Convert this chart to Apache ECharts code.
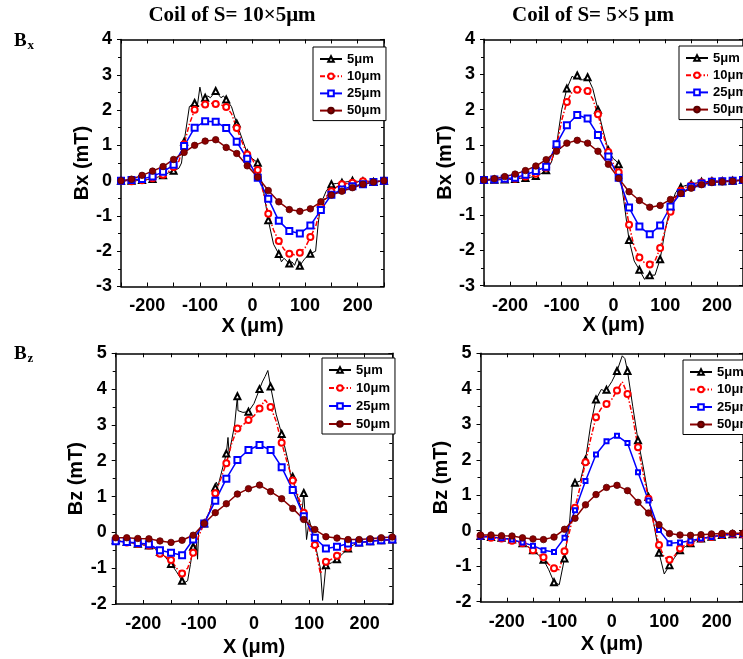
<!DOCTYPE html>
<html><head><meta charset="utf-8">
<script src="https://cdn.jsdelivr.net/npm/echarts@6/dist/echarts.min.js"></script>
<style>html,body{margin:0;padding:0;background:#fff}#c{width:743px;height:659px}</style>
</head><body><div id="c"></div>
<script>
// ---------- data ----------
const seriesNames = ['5μm', '10μm', '25μm', '50μm'];
const xTickLabels = [-200, -100, 0, 100, 200];
const xTicks = [-250, -200, -150, -100, -50, 0, 50, 100, 150, 200, 250];
const X20 = [-250,-230,-210,-190,-170,-150,-130,-110,-90,-70,-50,-30,-10,10,30,50,70,90,110,130,150,170,190,210,230,250];
const X10 = [-250,-240,-230,-220,-210,-200,-190,-180,-170,-160,-150,-140,-130,-120,-110,-100,-90,-80,-70,-60,-50,-40,-30,-20,-10,0,10,20,30,40,50,60,70,80,90,100,110,120,130,140,150,160,170,180,190,200,210,220,230,240,250];

// Top-left: Bx, coil 10x5
const tl5x = [-250,-240,-230,-220,-210,-200,-190,-180,-170,-160,-150,-140,-135,-130,-120,-110,-105,-100,-95,-90,-85,-80,-70,-60,-55,-50,-40,-30,-20,-10,0,10,20,30,40,50,55,60,70,75,80,85,90,95,100,110,120,125,130,140,150,160,170,180,190,200,210,220,230,240,250];
const tl5y = [0,0,0,0.01,0.02,0.03,0.05,0.1,0.15,0.22,0.28,0.35,0.5,1.1,2.1,2.2,2.1,2.65,2.3,2.35,2.4,2.35,2.54,2.35,2.4,2.3,2.1,1.62,1.2,0.77,0.62,0.51,-0.2,-1.12,-1.8,-2.08,-2.3,-2.2,-2.35,-2.3,-2.4,-2.2,-2.41,-2.3,-2.2,-2.07,-2.0,-1.2,-0.65,-0.3,-0.1,-0.08,-0.06,-0.03,0,-0.02,-0.02,-0.02,-0.04,-0.02,0];
const tl10 = [0,0,-0.02,0,0.01,0.03,0.07,0.1,0.17,0.25,0.39,0.55,1.03,1.6,2.01,2.15,2.16,2.2,2.17,2.15,2.09,1.9,1.49,1.1,0.74,0.6,0.3,-0.3,-0.94,-1.4,-1.71,-1.95,-2.07,-2.1,-2.04,-1.9,-1.6,-1.3,-0.75,-0.45,-0.3,-0.18,-0.1,-0.08,-0.06,-0.04,-0.02,-0.02,-0.04,-0.02,0];
const tl25 = [0,0.02,0.05,0.12,0.25,0.45,0.98,1.5,1.68,1.67,1.49,1.1,0.62,0.08,-0.51,-1.14,-1.43,-1.5,-1.27,-0.83,-0.4,-0.25,-0.16,-0.1,-0.04,0];
const tl50 = [0,0.04,0.15,0.27,0.4,0.6,0.8,1.0,1.12,1.16,0.94,0.77,0.42,0.1,-0.28,-0.6,-0.82,-0.87,-0.8,-0.6,-0.41,-0.3,-0.2,-0.1,-0.04,0];

// Top-right: Bx, coil 5x5
const tr5x = [-250,-240,-230,-220,-210,-200,-190,-180,-170,-160,-150,-140,-130,-120,-110,-100,-90,-80,-75,-70,-65,-60,-50,-40,-30,-20,-10,0,5,10,20,30,40,50,60,65,70,80,90,100,110,120,130,140,150,160,170,180,190,200,210,220,230,240,250];
const tr5y = [0,0,0.01,0.01,0.02,0.02,0.03,0.05,0.06,0.08,0.12,0.18,0.28,0.5,1.0,2.0,2.6,2.95,2.9,2.97,2.85,2.85,2.92,2.6,2.0,1.4,0.85,0.6,0.55,0.45,-0.6,-1.7,-2.3,-2.55,-2.82,-2.7,-2.7,-2.7,-2.25,-1.4,-0.75,-0.35,-0.2,-0.15,-0.12,-0.08,-0.05,-0.04,-0.03,-0.03,-0.03,-0.02,-0.02,-0.01,0];
const tr10 = [0,0,0.02,0.02,0.03,0.03,0.04,0.07,0.1,0.14,0.18,0.25,0.35,0.55,0.95,1.7,2.22,2.5,2.57,2.58,2.53,2.3,1.87,1.3,0.8,0.45,0.22,-0.4,-1.27,-1.9,-2.2,-2.35,-2.4,-2.3,-1.93,-1.4,-0.9,-0.5,-0.3,-0.2,-0.15,-0.1,-0.07,-0.05,-0.04,-0.03,-0.03,-0.02,-0.02,-0.01,0];
const tr25 = [0,0.02,0.04,0.07,0.15,0.26,0.38,1.02,1.56,1.85,1.75,1.28,0.67,0.07,-0.78,-1.32,-1.54,-1.29,-0.75,-0.37,-0.19,-0.1,-0.05,-0.03,-0.02,0];
const tr50 = [0,0.04,0.1,0.17,0.27,0.4,0.58,0.82,1.05,1.13,1.05,0.82,0.45,0.05,-0.33,-0.58,-0.77,-0.72,-0.55,-0.38,-0.23,-0.13,-0.07,-0.05,-0.03,0];

// Bottom-left: Bz, coil 10x5
const bl5x = [-250,-240,-230,-220,-210,-200,-190,-180,-170,-160,-150,-140,-130,-125,-120,-115,-110,-105,-102,-100,-95,-90,-80,-70,-68,-65,-60,-50,-47,-45,-40,-35,-30,-29,-20,-10,0,10,15,20,25,30,40,50,60,63,66,70,80,87,90,95,100,110,120,124,130,140,150,160,170,180,190,200,210,220,230,240,250];
const bl5y = [-0.22,-0.25,-0.27,-0.3,-0.32,-0.35,-0.37,-0.45,-0.55,-0.7,-0.88,-1.1,-1.35,-1.4,-1.35,-0.9,-0.4,-0.1,-0.75,0.05,0.15,0.25,0.6,1.25,1.4,1.3,1.6,2.2,2.65,2.2,2.6,3.0,3.8,3.4,3.35,3.37,3.6,4.0,4.2,4.35,4.52,4.07,3.3,2.75,2.1,1.9,1.6,1.55,0.9,0.6,1.1,-0.2,0.35,-0.3,-1.0,-1.9,-0.92,-0.85,-0.75,-0.6,-0.45,-0.35,-0.28,-0.27,-0.25,-0.23,-0.22,-0.21,-0.2];
const bl10 = [-0.22,-0.25,-0.28,-0.3,-0.32,-0.35,-0.37,-0.45,-0.6,-0.68,-0.77,-1.0,-1.15,-1.0,-0.57,-0.1,0.25,0.6,1.09,1.5,1.93,2.5,2.9,3.0,3.14,3.25,3.46,3.7,3.5,3.1,2.5,1.95,1.45,1.0,0.55,0.1,-0.35,-1.15,-0.82,-0.75,-0.65,-0.55,-0.42,-0.33,-0.28,-0.27,-0.25,-0.23,-0.22,-0.21,-0.2];
const bl25 = [-0.25,-0.27,-0.3,-0.33,-0.5,-0.57,-0.64,-0.2,0.25,0.88,1.5,2.02,2.3,2.44,2.3,1.82,1.18,0.45,-0.15,-0.45,-0.4,-0.31,-0.28,-0.25,-0.22,-0.2];
const bl50 = [-0.15,-0.15,-0.17,-0.18,-0.24,-0.28,-0.22,-0.08,0.25,0.55,0.8,1.07,1.22,1.32,1.14,0.94,0.67,0.36,0.08,-0.12,-0.16,-0.2,-0.2,-0.18,-0.15,-0.13];

// Bottom-right: Bz, coil 5x5
const br5x = [-250,-240,-230,-220,-210,-200,-190,-180,-170,-160,-150,-140,-130,-120,-110,-100,-90,-80,-75,-70,-60,-50,-40,-30,-20,-15,-10,0,10,20,25,30,40,50,60,70,80,90,100,110,120,130,140,150,160,170,180,190,200,210,220,230,240,250];
const br5y = [-0.15,-0.16,-0.18,-0.19,-0.2,-0.22,-0.25,-0.3,-0.35,-0.45,-0.55,-0.68,-0.82,-1.1,-1.45,-1.52,-0.78,0.3,1.3,1.35,1.4,2.0,3.0,3.7,3.98,3.95,3.97,4.2,4.5,4.93,4.85,4.5,3.5,2.55,1.8,0.95,0.2,-0.62,-1.22,-0.97,-0.75,-0.55,-0.45,-0.35,-0.28,-0.22,-0.19,-0.17,-0.14,-0.12,-0.11,-0.1,-0.1,-0.1];
const br10 = [-0.15,-0.17,-0.2,-0.21,-0.22,-0.25,-0.28,-0.32,-0.35,-0.45,-0.55,-0.65,-0.75,-0.95,-1.06,-1.1,-0.58,0.0,0.65,1.25,1.93,2.6,3.2,3.45,3.57,3.7,3.95,4.2,3.85,3.2,2.35,1.6,0.9,0.2,-0.4,-0.75,-0.82,-0.7,-0.5,-0.4,-0.33,-0.27,-0.22,-0.2,-0.18,-0.15,-0.12,-0.11,-0.1,-0.1,-0.1];
const br25 = [-0.17,-0.18,-0.21,-0.25,-0.33,-0.42,-0.55,-0.6,-0.2,0.58,1.4,2.15,2.52,2.68,2.47,1.65,0.85,0.02,-0.35,-0.33,-0.28,-0.22,-0.18,-0.12,-0.1,-0.1];
const br50 = [-0.12,-0.12,-0.14,-0.15,-0.2,-0.23,-0.25,-0.18,0.04,0.35,0.73,1.02,1.22,1.28,1.13,0.8,0.5,0.17,-0.08,-0.12,-0.13,-0.11,-0.09,-0.08,-0.07,-0.07];

// ---------- layout / style ----------
const SANS = '"Liberation Sans", Arial, sans-serif';
const SERIF = '"Liberation Serif", "Times New Roman", serif';
const COLORS = ['#000000', '#ff0000', '#0000ff', '#8b0000'];
const grids = [
  {left: 121, top: 39.5, width: 263, height: 247},
  {left: 484, top: 39.3, width: 266, height: 246.4},
  {left: 115.7, top: 353.3, width: 276.6, height: 250.7},
  {left: 480.5, top: 353.3, width: 273, height: 248.4}
];
const yRanges = [[-3,4],[-3,4],[-2,5],[-2,5]];
const yNames = ['Bx (mT)','Bx (mT)','Bz (mT)','Bz (mT)'];
const xNameGap = [30, 30, 33, 33];
const legendPos = [
  {left: 313, top: 47, itemGap: 3.2},
  {left: 679, top: 46, itemGap: 3.2},
  {left: 322, top: 358, itemGap: 4},
  {left: 683, top: 360, itemGap: 3.5}
];
const panels = [
  {x5: tl5x, y5: tl5y, d10: tl10, d25: tl25, d50: tl50, sq: 6},
  {x5: tr5x, y5: tr5y, d10: tr10, d25: tr25, d50: tr50, sq: 6},
  {x5: bl5x, y5: bl5y, d10: bl10, d25: bl25, d50: bl50, sq: 6},
  {x5: br5x, y5: br5y, d10: br10, d25: br25, d50: br50, sq: 4}
];

const mk = s => (v => (Math.abs(Math.round(v[0])) % 20 === 10 ? s : 0));
const zip = (xs, ys) => xs.map((x, i) => [x, ys[i]]);

const xAxes = [], yAxes = [], series = [], legends = [];
grids.forEach((g, i) => {
  const common = {gridIndex: i, type: 'value', min: -250, max: 250, splitLine: {show: false},
    axisLine: {show: true, onZero: false, lineStyle: {color: '#000', width: 1.5}}};
  xAxes.push(Object.assign({}, common, {
    position: 'bottom', name: 'X (μm)', nameLocation: 'middle', nameGap: xNameGap[i],
    nameTextStyle: {fontSize: 20, fontWeight: 'bold', color: '#000', fontFamily: SANS},
    axisTick: {show: true, inside: true, length: 4, customValues: xTicks, lineStyle: {color: '#000', width: 1}},
    axisLabel: {show: true, customValues: xTickLabels, fontSize: 18, fontWeight: 'bold', color: '#000', fontFamily: SANS, margin: 11}
  }));
  xAxes.push(Object.assign({}, common, {
    position: 'top',
    axisTick: {show: true, inside: true, length: 4, customValues: xTicks, lineStyle: {color: '#000', width: 1}},
    axisLabel: {show: false}
  }));
  const yc = {gridIndex: i, type: 'value', min: yRanges[i][0], max: yRanges[i][1], interval: 1, splitLine: {show: false},
    axisLine: {show: true, onZero: false, lineStyle: {color: '#000', width: 1.5}},
    minorTick: {show: true, splitNumber: 2, length: 3, lineStyle: {color: '#000', width: 1}}};
  yAxes.push(Object.assign({}, yc, {
    position: 'left', name: yNames[i], nameLocation: 'middle', nameGap: 25, nameRotate: 90,
    nameTextStyle: {fontSize: 20, fontWeight: 'bold', color: '#000', fontFamily: SANS},
    axisTick: {show: true, inside: false, length: 4, lineStyle: {color: '#000', width: 1}},
    axisLabel: {show: true, fontSize: 18, fontWeight: 'bold', color: '#000', fontFamily: SANS, margin: 9}
  }));
  yAxes.push(Object.assign({}, yc, {position: 'right', axisLabel: {show: false},
    axisTick: {show: true, inside: true, length: 4, lineStyle: {color: '#000', width: 1}}}));

  const p = panels[i];
  const base = {type: 'line', xAxisIndex: 2 * i, yAxisIndex: 2 * i, showAllSymbol: true, animation: false, smooth: false};
  series.push(Object.assign({}, base, {
    name: '5μm', data: zip(p.x5, p.y5), symbol: 'emptyTriangle', symbolSize: mk(6),
    lineStyle: {color: COLORS[0], width: 1}, itemStyle: {color: COLORS[0], borderWidth: 1}
  }));
  series.push(Object.assign({}, base, {
    name: '10μm', data: zip(X10, p.d10), symbol: 'emptyCircle', symbolSize: mk(6),
    lineStyle: {color: COLORS[1], width: 1.5, type: [5, 2, 1.5, 2]}, itemStyle: {color: COLORS[1], borderWidth: 1}
  }));
  series.push(Object.assign({}, base, {
    name: '25μm', data: zip(X20, p.d25), symbol: 'emptyRect', symbolSize: mk(p.sq),
    lineStyle: {color: COLORS[2], width: 1.5}, itemStyle: {color: COLORS[2], borderWidth: 1}
  }));
  series.push(Object.assign({}, base, {
    name: '50μm', data: zip(X20, p.d50), symbol: 'circle', symbolSize: mk(6.5),
    lineStyle: {color: COLORS[3], width: 1.5}, itemStyle: {color: COLORS[3], borderColor: '#5a0000', borderWidth: 0.8}
  }));

  legends.push(Object.assign({
    data: seriesNames, orient: 'vertical', itemWidth: 22, itemHeight: 7,
    padding: [5, 5, 3, 6], borderColor: '#000', borderWidth: 1, backgroundColor: '#fff',
    selectedMode: false,
    textStyle: {fontSize: 13, fontWeight: 'bold', color: '#000', fontFamily: SANS, lineHeight: 14}
  }, legendPos[i]));
});

const txt = (text, x, y, size, align) => ({type: 'text', x: x, y: y, silent: true,
  style: {text: text, font: 'bold ' + size + 'px ' + SERIF, fill: '#000', align: align || 'center', verticalAlign: 'middle'}});

const option = {
  animation: false,
  backgroundColor: '#fff',
  grid: grids,
  xAxis: xAxes,
  yAxis: yAxes,
  legend: legends,
  series: series,
  graphic: [
    txt('Coil of S= 10×5μm', 232, 16, 21),
    txt('Coil of S= 5×5 μm', 593, 16, 21),
    txt('B', 14, 41, 19, 'left'),
    txt('x', 27.5, 46, 13, 'left'),
    txt('B', 14, 354, 19, 'left'),
    txt('z', 27.5, 359, 13, 'left')
  ]
};
const chart = echarts.init(document.getElementById('c'), null, {renderer: 'canvas'});
chart.setOption(option);
</script>
</body></html>
